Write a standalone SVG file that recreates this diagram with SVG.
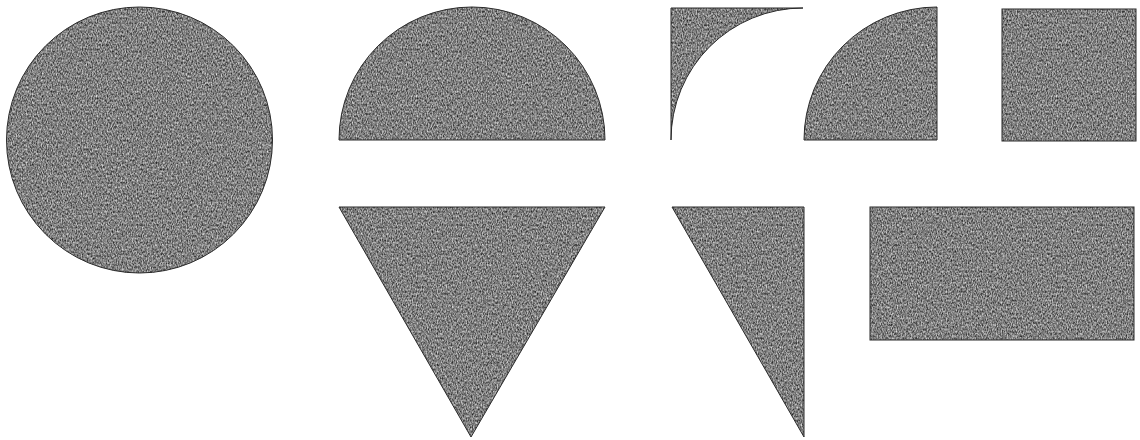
<svg xmlns="http://www.w3.org/2000/svg" width="1140" height="440" viewBox="0 0 1140 440">
  <style>
    .shape { fill: #7a7a7a; filter: url(#grain); }
    .edge { fill: none; stroke: #2a2a2a; stroke-width: 1; }
  </style>
  <defs>
    <filter id="grain" x="0" y="0" width="100%" height="100%" color-interpolation-filters="sRGB">
      <feTurbulence type="fractalNoise" baseFrequency="0.8 0.45" numOctaves="2" seed="7" result="n"/>
      <feColorMatrix in="n" type="matrix" values="1.0 0 0 0 0.0  1.0 0 0 0 0.0  1.0 0 0 0 0.0  0 0 0 0 1" result="g"/>
      <feComposite in="g" in2="SourceGraphic" operator="in"/>
    </filter>
    <path id="p-semi" d="M339,140 A133,133 0 0 1 605,140 Z"/>
    <path id="p-concave" d="M671,8 L803,8 A132,132 0 0 0 671,140 Z"/>
    <path id="p-quarter" d="M937,140 L804,140 A133,133 0 0 1 937,7 Z"/>
    <path id="p-tri" d="M339,207 L605,207 L471,437 Z"/>
    <path id="p-rtri" d="M672,207 L804,207 L804,437 Z"/>
  </defs>
  <rect width="1140" height="440" fill="#ffffff"/>
  <g id="circle">
    <circle class="shape" cx="139.5" cy="140" r="133"/>
    <circle class="edge" cx="139.5" cy="140" r="133"/>
  </g>
  <g id="semicircle">
    <use href="#p-semi" class="shape"/>
    <use href="#p-semi" class="edge"/>
  </g>
  <g id="concave-corner">
    <use href="#p-concave" class="shape"/>
    <use href="#p-concave" class="edge"/>
  </g>
  <g id="quarter-circle">
    <use href="#p-quarter" class="shape"/>
    <use href="#p-quarter" class="edge"/>
  </g>
  <g id="square">
    <rect class="shape" x="1002" y="9" width="134" height="132"/>
    <rect class="edge" x="1002" y="9" width="134" height="132"/>
  </g>
  <g id="triangle">
    <use href="#p-tri" class="shape"/>
    <use href="#p-tri" class="edge"/>
  </g>
  <g id="right-triangle">
    <use href="#p-rtri" class="shape"/>
    <use href="#p-rtri" class="edge"/>
  </g>
  <g id="rectangle">
    <rect class="shape" x="870" y="207" width="264" height="133"/>
    <rect class="edge" x="870" y="207" width="264" height="133"/>
  </g>
</svg>
